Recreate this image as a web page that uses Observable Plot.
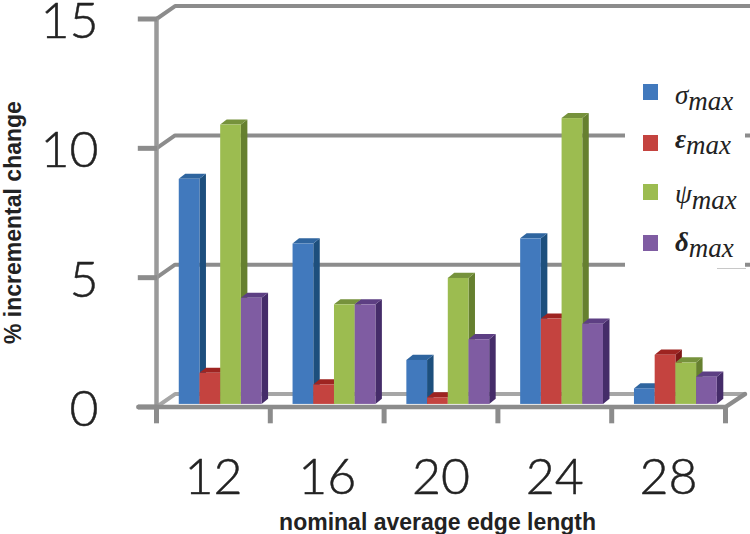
<!DOCTYPE html>
<html>
<head>
<meta charset="utf-8">
<script src="https://cdn.jsdelivr.net/npm/d3@7"></script>
<script src="https://cdn.jsdelivr.net/npm/@observablehq/plot@0.6"></script>
<style>
  html, body { margin: 0; padding: 0; background: #fff; }
  #chart { position: relative; width: 750px; height: 534px; overflow: hidden; }
  #legend { position: absolute; left: 625px; top: 60px; width: 120px; height: 208px; background: #fff; }
  .swatch { position: absolute; left: 18px; width: 15px; height: 16px; }
  .entry { position: absolute; left: 50px; font-family: "Liberation Serif", serif; font-size: 27px; line-height: 30px; color: #222; white-space: nowrap; }
  .entry sub { font-size: 27px; font-style: italic; font-weight: normal; vertical-align: baseline; position: relative; top: 6px; line-height: 0; }
  #faint { position: absolute; left: 717px; top: 268px; width: 29px; height: 1px; background: #c8c8c8; }
</style>
</head>
<body>
<div id="chart"></div>
<script>
const categories = ["12", "16", "20", "24", "28"];
const sigmaMax   = [8.7, 6.2, 1.7, 6.4, 0.6];
const epsilonMax = [1.2, 0.75, 0.25, 3.3, 1.9];
const psiMax     = [10.8, 3.85, 4.87, 11.05, 1.6];
const deltaMax   = [4.1, 3.85, 2.5, 3.1, 1.05];
const yTicks = [0, 5, 10, 15];

const seriesList = [
  {name: "σ", bold: false, values: sigmaMax,   front: "#4179bd", side: "#1d4f7d", top: "#2f659f"},
  {name: "ε", bold: true,  values: epsilonMax, front: "#c4433f", side: "#7f1717", top: "#9e2421"},
  {name: "ψ", bold: false, values: psiMax,     front: "#9cbc50", side: "#66802f", top: "#76923c"},
  {name: "δ", bold: true,  values: deltaMax,   front: "#7f5ca2", side: "#452c69", top: "#5d3f83"}
];

// oblique projection parameters, in data units
const groupOffset = 0.2, barW = 0.182, barDX = 0.057, barDY = 0.2, floorY = 0.1;
const wallDX = 0.163, wallDY = 0.5, backEnd = 5.23;

function barsOf(s, k) {
  return s.values.map((v, i) => ({i, l: i + groupOffset + k * barW, r: i + groupOffset + (k + 1) * barW, v: v + floorY}));
}
function sideFaces(bars) {
  return bars.flatMap(b => [
    {g: b.i, x: b.r, y1: floorY, y2: b.v},
    {g: b.i, x: b.r + barDX, y1: floorY + barDY, y2: b.v + barDY}
  ]);
}
function topFaces(bars) {
  return bars.flatMap(b => [
    {g: b.i, x: b.l, y1: b.v, y2: b.v},
    {g: b.i, x: b.l + barDX, y1: b.v, y2: b.v + barDY},
    {g: b.i, x: b.r, y1: b.v, y2: b.v + barDY},
    {g: b.i, x: b.r + barDX, y1: b.v + barDY, y2: b.v + barDY}
  ]);
}

const barMarks = seriesList.flatMap((s, k) => {
  const bars = barsOf(s, k);
  return [
    Plot.area(sideFaces(bars), {x1: "x", y1: "y1", y2: "y2", z: "g", fill: s.side, curve: "linear"}),
    Plot.area(topFaces(bars), {x1: "x", y1: "y1", y2: "y2", z: "g", fill: s.top, curve: "linear"}),
    Plot.rect(bars, {x1: "l", x2: "r", y1: floorY, y2: "v", fill: s.front})
  ];
});

const gridLines = [5, 10, 15].flatMap(v => [
  {g: v, x: 0, y: v}, {g: v, x: wallDX, y: v + wallDY}, {g: v, x: backEnd, y: v + wallDY}
]);
const floorBack = [{x: 0, y: 0}, {x: wallDX, y: wallDY}, {x: 5.17, y: wallDY}];
const floorFront = [{x: -0.16, y: 0}, {x: 5, y: 0}, {x: 5.17, y: wallDY}];

const chart = Plot.plot({
  width: 750, height: 534, margin: 0,
  x: {domain: [0, 5], range: [156, 725], axis: null},
  y: {domain: [0, 15], range: [406.5, 18.5], axis: null},
  style: {background: "#fff"},
  marks: [
    Plot.line(floorBack, {x: "x", y: "y", stroke: "#a6a6a6", strokeWidth: 4, curve: "linear"}),
    Plot.line(gridLines, {x: "x", y: "y", z: "g", stroke: "#8c8c8c", strokeWidth: 4, curve: "linear"}),
    Plot.ruleX([0], {y1: 0, y2: 15, stroke: "#9a9a9a", strokeWidth: 4.5}),
    Plot.ruleY(yTicks, {x1: -0.16, x2: 0.01, stroke: "#8c8c8c", strokeWidth: 5}),
    Plot.line(floorFront, {x: "x", y: "y", stroke: "#8c8c8c", strokeWidth: 4.5, curve: "linear"}),
    Plot.ruleX(d3.range(6), {y1: 0, y2: -0.65, stroke: "#8c8c8c", strokeWidth: 5}),
    ...barMarks,
    Plot.text(categories, {x: (d, i) => i + 0.5, y: -2.72, dy: 1, text: d => d, fontFamily: "Lato, sans-serif", fontWeight: 300, fontSize: 50, fill: "#222", stroke: "#222", strokeWidth: 0.5}),
    Plot.text(yTicks, {x: -0.51, y: d => d, dy: 3, text: d => String(d), textAnchor: "end", fontFamily: "Lato, sans-serif", fontWeight: 300, fontSize: 50, fill: "#222", stroke: "#222", strokeWidth: 0.5}),
    Plot.text(["nominal average edge length"], {x: 2.47, y: -4.46, text: d => d, fontFamily: "Liberation Sans, Arial, sans-serif", fontWeight: "bold", fontSize: 23, fill: "#222"}),
    Plot.text(["% incremental change"], {x: -1.283, y: 7.13, dx: 3, rotate: -90, text: d => d, fontFamily: "Liberation Sans, Arial, sans-serif", fontWeight: "bold", fontSize: 23, fill: "#222"})
  ]
});

const host = document.getElementById("chart");
host.appendChild(chart);

const legend = document.createElement("div");
legend.id = "legend";
const swatchTops = [24, 75, 124, 175];
const textTops = [20, 64, 119, 167];
seriesList.forEach((s, k) => {
  const sw = document.createElement("div");
  sw.className = "swatch";
  sw.style.top = swatchTops[k] + "px";
  sw.style.background = s.front;
  legend.appendChild(sw);
  const t = document.createElement("div");
  t.className = "entry";
  t.style.top = textTops[k] + "px";
  t.innerHTML = (s.bold ? `<b><i>${s.name}</i></b>` : `<i>${s.name}</i>`) + "<sub>max</sub>";
  legend.appendChild(t);
});
host.appendChild(legend);
const faint = document.createElement("div");
faint.id = "faint";
host.appendChild(faint);
</script>
</body>
</html>
